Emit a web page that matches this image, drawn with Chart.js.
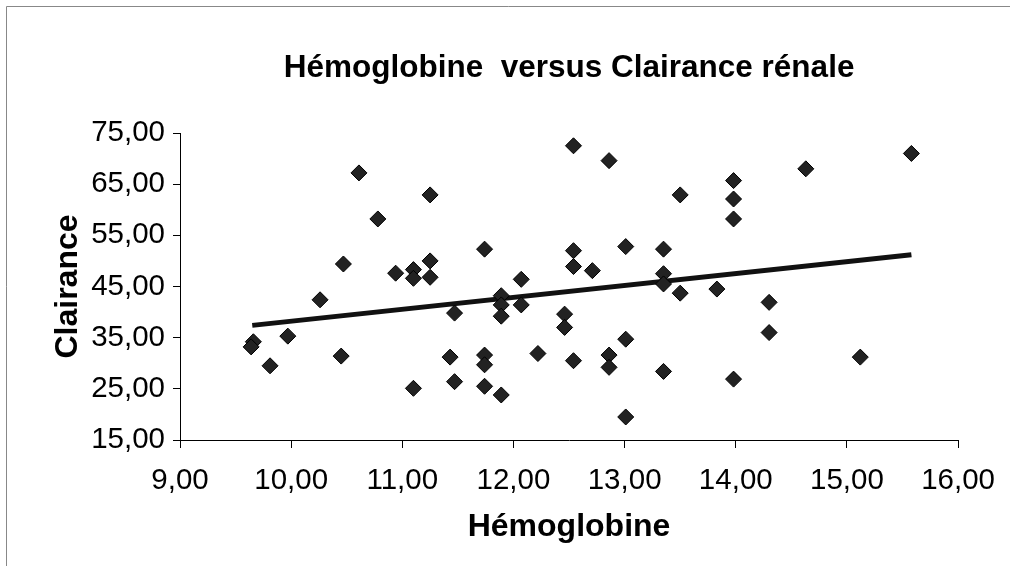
<!DOCTYPE html>
<html>
<head>
<meta charset="utf-8">
<script src="https://cdn.jsdelivr.net/npm/chart.js@4"></script>
<style>
  html, body { margin: 0; padding: 0; background: #fff; }
  #wrap { width: 1010px; height: 566px; position: relative; }
</style>
</head>
<body>
<div id="wrap"><canvas id="c"></canvas></div>
<script>
const chartTitle = 'Hémoglobine  versus Clairance rénale';
const xTitle = 'Hémoglobine';
const yTitle = 'Clairance';

const hemoglobine = [
  9.66, 9.64, 9.81, 9.97, 10.26, 10.45, 10.47, 10.61, 10.78, 10.94, 11.10, 11.10, 11.25, 11.25, 11.25, 11.10,
  11.47, 11.43, 11.47, 11.74, 11.74, 11.74, 11.74, 11.89, 11.89, 11.89, 11.89, 12.07, 12.07, 12.22,
  12.46, 12.46, 12.54, 12.54, 12.54, 12.54, 12.71, 12.86, 12.86, 12.86, 13.01, 13.01, 13.01,
  13.35, 13.35, 13.35, 13.35, 13.50, 13.50,
  13.98, 13.98, 13.98, 13.98, 13.83, 14.30, 14.30, 14.63, 15.12, 15.58
];
const clairance = [
  34.2, 33.2, 29.5, 35.3, 42.4, 31.4, 49.4, 67.2, 58.2, 47.6, 48.3, 46.6, 62.9, 50.0, 46.8, 25.1,
  39.8, 31.2, 26.4, 52.3, 31.6, 29.7, 25.5, 43.2, 41.4, 39.2, 23.8, 46.4, 41.4, 31.9,
  39.6, 37.0, 72.5, 52.0, 48.9, 30.5, 48.1, 69.6, 31.6, 29.2, 52.8, 34.7, 19.5,
  52.3, 47.5, 45.5, 28.4, 62.9, 43.7,
  65.7, 62.1, 58.2, 26.9, 44.5, 41.9, 36.0, 68.0, 31.2, 71.0
];
const trendX = [9.65, 15.58];
const trendY = [37.4, 51.2];

const xMin = 9, xMax = 16, xStep = 1;
const yMin = 15, yMax = 75, yStep = 10;

const FONT = '"Liberation Sans", Arial, Helvetica, sans-serif';
const fmt = v => Number(v).toFixed(2).replace('.', ',');

const framePlugin = {
  id: 'frame',
  beforeDraw(chart) {
    const ctx = chart.ctx;
    ctx.save();
    ctx.strokeStyle = '#888';
    ctx.lineWidth = 1;
    ctx.beginPath();
    ctx.moveTo(6.5, 566);
    ctx.lineTo(6.5, 6.5);
    ctx.lineTo(1010, 6.5);
    ctx.stroke();
    ctx.restore();
  }
};

new Chart(document.getElementById('c'), {
  type: 'scatter',
  data: {
    datasets: [
      {
        label: 'Clairance',
        data: hemoglobine.map((x, i) => ({ x: x, y: clairance[i] })),
        pointStyle: 'rectRot',
        pointRadius: 8,
        backgroundColor: '#222',
        borderColor: '#000',
        borderWidth: 1,
        order: 1
      },
      {
        type: 'line',
        label: 'Tendance',
        data: trendX.map((x, i) => ({ x: x, y: trendY[i] })),
        borderColor: '#111',
        borderWidth: 5,
        pointRadius: 0,
        fill: false,
        showLine: true,
        order: 2
      }
    ]
  },
  options: {
    responsive: true,
    maintainAspectRatio: false,
    animation: false,
    layout: { padding: { left: 0, right: 49, top: 0, bottom: 0 } },
    plugins: {
      legend: { display: false },
      tooltip: { enabled: false },
      title: {
        display: true,
        text: chartTitle,
        fullSize: false,
        color: '#000',
        font: { family: FONT, size: 31.5, weight: 'bold' },
        padding: { top: 49, bottom: 46.2 }
      }
    },
    scales: {
      x: {
        type: 'linear',
        min: xMin, max: xMax,
        afterFit: s => { s.height = 126; },
        ticks: {
          stepSize: xStep,
          callback: v => fmt(v),
          color: '#000',
          font: { family: FONT, size: 29.5 },
          padding: 15,
          maxRotation: 0
        },
        grid: { drawOnChartArea: false, drawTicks: true, tickLength: 8, color: '#000' },
        border: { display: true, color: '#000', width: 1 },
        title: {
          display: true,
          text: xTitle,
          color: '#000',
          font: { family: FONT, size: 32, weight: 'bold' },
          padding: { top: 0, bottom: 20 }
        }
      },
      y: {
        type: 'linear',
        min: yMin, max: yMax,
        afterFit: s => { s.width = 180; },
        ticks: {
          stepSize: yStep,
          callback: v => fmt(v),
          color: '#000',
          font: { family: FONT, size: 29.5 },
          padding: 8
        },
        grid: { drawOnChartArea: false, drawTicks: true, tickLength: 7, color: '#000' },
        border: { display: true, color: '#000', width: 1 },
        title: {
          display: true,
          text: yTitle,
          color: '#000',
          font: { family: FONT, size: 32, weight: 'bold' },
          padding: { top: 49, bottom: 0 }
        }
      }
    }
  },
  plugins: [framePlugin]
});
</script>
</body>
</html>
